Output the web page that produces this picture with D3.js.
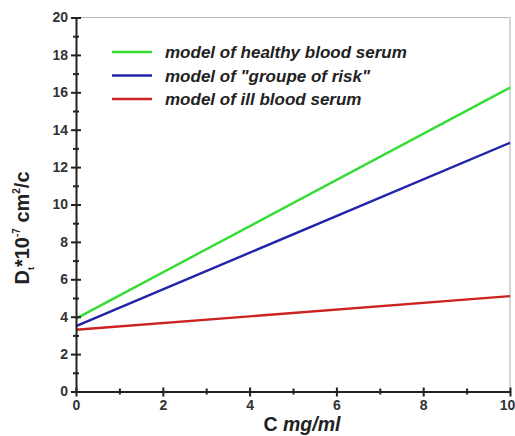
<!DOCTYPE html>
<html>
<head>
<meta charset="utf-8">
<script src="https://cdn.jsdelivr.net/npm/d3@7"></script>
<style>
  html, body { margin: 0; padding: 0; background: #fff; }
  svg { display: block; }
  text { font-family: "Liberation Sans", Arial, sans-serif; }
</style>
</head>
<body>
<svg id="chart" width="515" height="436"></svg>
<script>
// Concentration (mg/ml) at the two ends of each model line
const concentration = [0, 10];

// Diffusion coefficient D_t (×10^-7 cm²/c) for each model
const healthy = [3.9, 16.25];
const riskGroup = [3.5, 13.3];
const ill = [3.3, 5.1];

const seriesNames = [
  "model of healthy blood serum",
  "model of \"groupe of risk\"",
  "model of ill blood serum"
];
const seriesColors = ["#33dd33", "#2222aa", "#cc2222"];

const xTicks = [0, 2, 4, 6, 8, 10];
const yTicks = [0, 2, 4, 6, 8, 10, 12, 14, 16, 18, 20];

const svg = d3.select("#chart");
const margin = { left: 76, right: 510, top: 17.5, bottom: 391.5 };

const x = d3.scaleLinear().domain([0, 10]).range([margin.left, margin.right]);
const y = d3.scaleLinear().domain([0, 20]).range([margin.bottom, margin.top]);

// light frame on top and right
svg.append("line")
  .attr("x1", margin.left).attr("x2", margin.right)
  .attr("y1", margin.top).attr("y2", margin.top)
  .attr("stroke", "#bbb").attr("stroke-width", 1.2);
svg.append("line")
  .attr("x1", margin.right).attr("x2", margin.right)
  .attr("y1", margin.top).attr("y2", margin.bottom)
  .attr("stroke", "#bbb").attr("stroke-width", 1.2);

// model lines
const allSeries = [healthy, riskGroup, ill];
const line = d3.line().x((d, i) => x(concentration[i])).y(d => y(d));
allSeries.forEach((s, i) => {
  svg.append("path")
    .datum(s)
    .attr("d", line)
    .attr("fill", "none")
    .attr("stroke", seriesColors[i])
    .attr("stroke-width", 2.4);
});

// axes: major ticks labelled, minor ticks between, ticks crossing the axis line
function styleAxis(g) {
  g.select(".domain").attr("stroke", "#222").attr("stroke-width", 2);
  g.selectAll(".tick line").attr("stroke", "#222").attr("stroke-width", 2);
  g.selectAll("text")
    .attr("font-size", 14).attr("font-weight", "bold").attr("fill", "#333");
}

const xAxis = svg.append("g")
  .attr("transform", `translate(0,${margin.bottom})`)
  .call(d3.axisBottom(x).tickValues(xTicks).tickFormat(d3.format("d"))
    .tickSize(5).tickSizeOuter(0).tickPadding(4));
xAxis.selectAll(".tick line").attr("y1", -4).attr("y2", 5);
styleAxis(xAxis);
// keep the last label inside the page edge
xAxis.selectAll(".tick text").filter(d => d === 10).attr("dx", -3);
svg.append("g")
  .attr("transform", `translate(0,${margin.bottom})`)
  .call(d3.axisBottom(x).tickValues(d3.range(1, 10, 2)).tickFormat("").tickSizeOuter(0))
  .call(g => g.select(".domain").remove())
  .call(g => g.selectAll(".tick line").attr("y1", -3).attr("y2", 3)
    .attr("stroke", "#222").attr("stroke-width", 2));

const yAxis = svg.append("g")
  .attr("transform", `translate(${margin.left},0)`)
  .call(d3.axisLeft(y).tickValues(yTicks).tickFormat(d3.format("d"))
    .tickSize(5).tickSizeOuter(0).tickPadding(3));
yAxis.selectAll(".tick line").attr("x1", -5).attr("x2", 5);
styleAxis(yAxis);
svg.append("g")
  .attr("transform", `translate(${margin.left},0)`)
  .call(d3.axisLeft(y).tickValues(d3.range(1, 20, 2)).tickFormat("").tickSizeOuter(0))
  .call(g => g.select(".domain").remove())
  .call(g => g.selectAll(".tick line").attr("x1", -3).attr("x2", 3)
    .attr("stroke", "#222").attr("stroke-width", 2));

// legend
const legend = svg.append("g").attr("transform", "translate(112,52)");
seriesNames.forEach((name, i) => {
  const row = legend.append("g").attr("transform", `translate(0,${i * 23.5})`);
  row.append("line")
    .attr("x1", 0).attr("x2", 40).attr("y1", 0).attr("y2", 0)
    .attr("stroke", seriesColors[i]).attr("stroke-width", 2.4);
  row.append("text")
    .attr("x", 53).attr("y", 6)
    .attr("font-size", 17).attr("font-weight", "bold").attr("font-style", "italic")
    .attr("fill", "#222")
    .text(name);
});

// x-axis title
const xTitle = svg.append("text")
  .attr("x", 302).attr("y", 431)
  .attr("text-anchor", "middle")
  .attr("font-size", 19.5).attr("font-weight", "bold").attr("fill", "#222");
xTitle.append("tspan").text("C ");
xTitle.append("tspan").attr("font-style", "italic").text("mg/ml");

// y-axis title
const yTitle = svg.append("text")
  .attr("transform", "translate(29,228) rotate(-90)")
  .attr("text-anchor", "middle")
  .attr("font-size", 20).attr("font-weight", "bold").attr("fill", "#222");
yTitle.append("tspan").text("D");
yTitle.append("tspan").attr("font-size", 9).attr("dy", 5).text("t");
yTitle.append("tspan").attr("dy", -5).text("*10");
yTitle.append("tspan").attr("font-size", 10).attr("dy", -9).text("-7");
yTitle.append("tspan").attr("dy", 9).text(" cm");
yTitle.append("tspan").attr("font-size", 10).attr("dy", -9).text("2");
yTitle.append("tspan").attr("dy", 9).text("/c");
</script>
</body>
</html>
